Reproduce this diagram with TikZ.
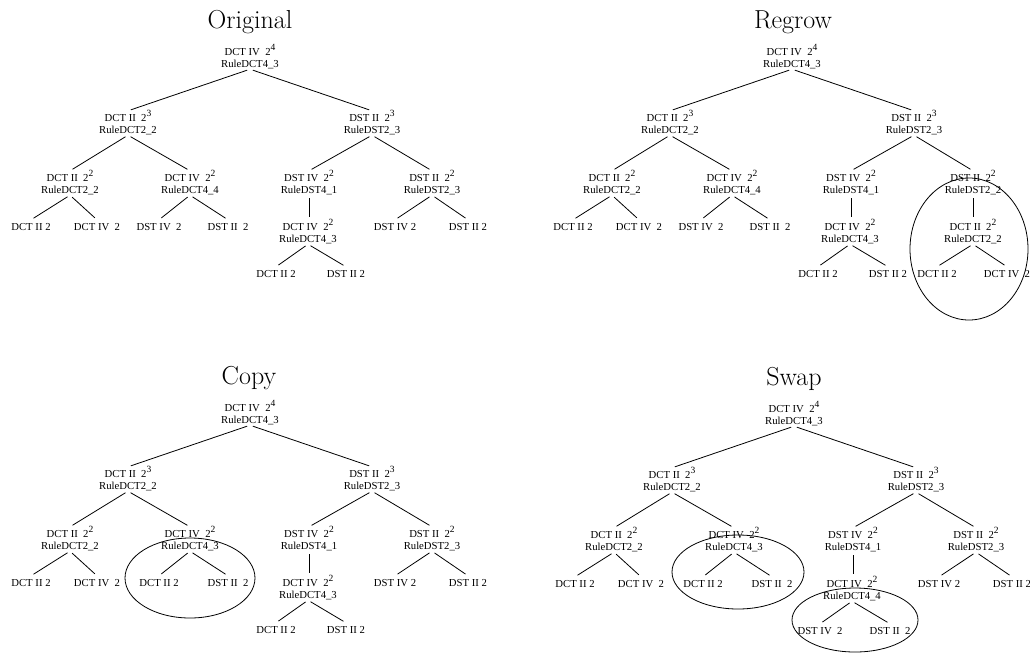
\documentclass[tikz,border=0pt]{standalone}
\usepackage{fontspec}
\newfontfamily\tf{Liberation Serif}
\newcommand\ex[1]{\raisebox{4.5pt}{\fontsize{9.5}{9.5}\selectfont #1}}
\newcommand\inode[5]{%
  \node[lab] (#1) at (#2,#3) {#4};
  \node[lab] (#1r) at (#2,#3+12) {#5};}
\newcommand\leaf[4]{\node[lab] (#1) at (#2,#3) {#4};}
% #1 A2 rule, #2 #3 A2 leaves, #4 B1c rule, #5 #6 B1c leaves
\newcommand\common[6]{%
  \inode{R}{250}{55}{DCT IV\ \ 2\ex{4}}{RuleDCT4\_3}
  \inode{A}{128}{121}{DCT II\ \ 2\ex{3}}{RuleDCT2\_2}
  \inode{B}{372}{121}{DST II\ \ 2\ex{3}}{RuleDST2\_3}
  \inode{A1}{70}{181}{DCT II\ \ 2\ex{2}}{RuleDCT2\_2}
  \inode{A2}{190}{181}{DCT IV\ \ 2\ex{2}}{#1}
  \inode{B1}{309}{181}{DST IV\ \ 2\ex{2}}{RuleDST4\_1}
  \leaf{A1a}{31}{230}{DCT II 2}
  \leaf{A1b}{97}{230}{DCT IV\ \ 2}
  \leaf{A2a}{159}{230}{#2}
  \leaf{A2b}{228}{230}{#3}
  \inode{B1c}{308}{230}{DCT IV\ \ 2\ex{2}}{#4}
  \leaf{B1ca}{276}{277}{#5}
  \leaf{B1cb}{346}{277}{#6}
  \draw[edge] (Rr.south) -- (A.north);
  \draw[edge] (Rr.south) -- (B.north);
  \draw[edge] (Ar.south) -- (A1.north);
  \draw[edge] (Ar.south) -- (A2.north);
  \draw[edge] (Br.south) -- (B1.north);
  \draw[edge] (A1r.south) -- (A1a.north);
  \draw[edge] (A1r.south) -- (A1b.north);
  \draw[edge] (A2r.south) -- (A2a.north);
  \draw[edge] (A2r.south) -- (A2b.north);
  \draw[edge] (B1r.south) -- (B1r.south |- B1c.north);
  \draw[edge] (B1cr.south) -- (B1ca.north);
  \draw[edge] (B1cr.south) -- (B1cb.north);}
\newcommand\origBtwo{%
  \inode{B2}{432}{181}{DST II\ \ 2\ex{2}}{RuleDST2\_3}
  \leaf{B2a}{395}{230}{DST IV 2}
  \leaf{B2b}{468}{230}{DST II 2}
  \draw[edge] (Br.south) -- (B2.north);
  \draw[edge] (B2r.south) -- (B2a.north);
  \draw[edge] (B2r.south) -- (B2b.north);}
\begin{document}
\begin{tikzpicture}[x=1pt,y=-1pt,
  lab/.style={font=\tf\fontsize{10.7}{12}\selectfont, inner sep=0pt,
    text height=10pt, text depth=2pt, anchor=base},
  edge/.style={line width=0.8pt, shorten <=3pt, shorten >=3pt},
  ttl/.style={font=\fontsize{26}{30}\selectfont, inner sep=0pt, anchor=base},
  ring/.style={line width=0.8pt}]
\useasboundingbox (0,0) rectangle (1030,654);
% Original
\begin{scope}[name prefix=o-]
  \node[ttl] (t) at (250,28) {Original};
  \common{RuleDCT4\_4}{DST IV\ \ 2}{DST II\ \ 2}{RuleDCT4\_3}{DCT II 2}{DST II 2}
  \origBtwo
\end{scope}
% Regrow
\begin{scope}[shift={(542,0)}, name prefix=r-]
  \node[ttl] (t) at (251,28) {Regrow};
  \common{RuleDCT4\_4}{DST IV\ \ 2}{DST II\ \ 2}{RuleDCT4\_3}{DCT II 2}{DST II 2}
  \inode{B2}{431}{181}{DST II\ \ 2\ex{2}}{RuleDST2\_2}
  \inode{B2c}{431}{230}{DCT II\ \ 2\ex{2}}{RuleDCT2\_2}
  \leaf{B2ca}{395}{277}{DCT II 2}
  \leaf{B2cb}{465}{277}{DCT IV\ \ 2}
  \draw[edge] (Br.south) -- (B2.north);
  \draw[edge] (B2r.south) -- (B2c.north);
  \draw[edge] (B2cr.south) -- (B2ca.north);
  \draw[edge] (B2cr.south) -- (B2cb.north);
  \draw[ring] (427,249) ellipse [x radius=59pt, y radius=71pt];
\end{scope}
% Copy
\begin{scope}[shift={(0,356)}, name prefix=c-]
  \node[ttl] (t) at (249,28) {Copy};
  \common{RuleDCT4\_3}{DCT II 2}{DST II\ \ 2}{RuleDCT4\_3}{DCT II 2}{DST II 2}
  \origBtwo
  \draw[ring] (190,222) ellipse [x radius=65pt, y radius=40pt];
\end{scope}
% Swap
\begin{scope}[shift={(544,357)}, name prefix=s-]
  \node[ttl] (t) at (250,28) {Swap};
  \common{RuleDCT4\_3}{DCT II 2}{DST II\ \ 2}{RuleDCT4\_4}{DST IV\ \ 2}{DST II\ \ 2}
  \origBtwo
  \draw[ring] (194,215) ellipse [x radius=66pt, y radius=37pt];
  \draw[ring] (311,263) ellipse [x radius=63pt, y radius=32pt];
\end{scope}
\end{tikzpicture}
\end{document}
